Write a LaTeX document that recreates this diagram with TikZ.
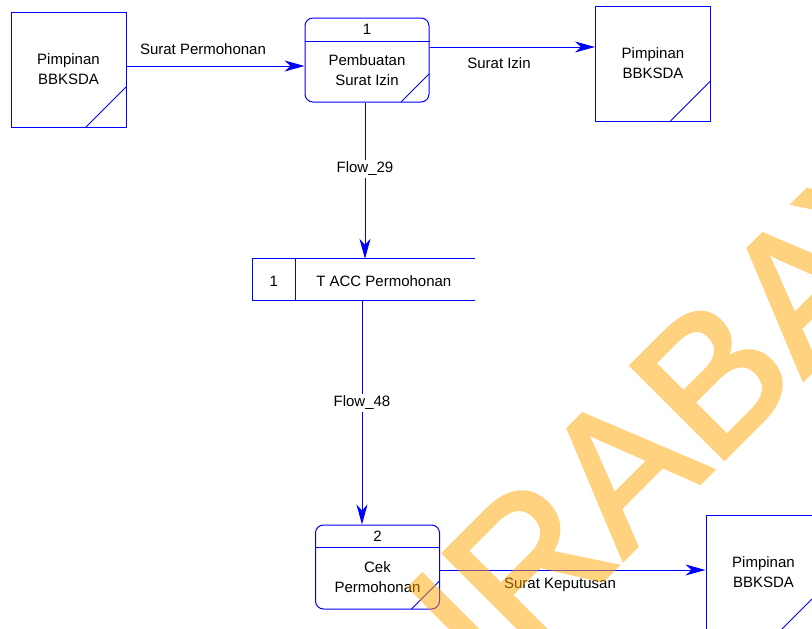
\documentclass[tikz,border=0pt]{standalone}
\usepackage{fontspec}
\setmainfont{Liberation Sans}
\newfontfamily\wmfont[FakeBold=2]{Liberation Sans}
\usetikzlibrary{arrows.meta,calc}
\definecolor{wmorange}{RGB}{255,165,0}
\definecolor{lineblue}{RGB}{0,0,255}
\tikzset{
  txt/.style={font=\fontsize{15}{20}\selectfont, align=center, inner sep=1pt},
  entity/.style={draw=lineblue, line width=1pt, minimum width=115pt, minimum height=115pt, inner sep=0pt,
     font=\fontsize{15}{20}\selectfont, align=center,
     path picture={\draw[lineblue, line width=1pt] ([xshift=-40pt]path picture bounding box.south east) -- ([yshift=40pt]path picture bounding box.south east);}},
  proc/.style={draw=lineblue, line width=1pt, rounded corners=8pt, minimum width=124pt, minimum height=84pt, inner sep=0pt,
     path picture={\draw[lineblue, line width=0.8pt] ([xshift=-28pt]path picture bounding box.south east) -- ([yshift=28pt]path picture bounding box.south east);}},
  flow/.style={draw=lineblue, line width=1pt, -{Stealth[length=20pt, width=11pt, inset=6pt]}},
  plain/.style={draw=lineblue, line width=1pt},
  flowlabel/.style={txt, fill=white, inner sep=2pt},
}
\begin{document}
\begin{tikzpicture}[x=1pt, y=-1pt]
\useasboundingbox (0,0) rectangle (812,629);
\clip (0,0) rectangle (812,629);

% external entities
\node[entity] (e1) at (68.5,69.5) {Pimpinan\\BBKSDA};
\node[entity] (e2) at (653,63.5) {Pimpinan\\BBKSDA};
\node[entity] (e3) at (763.5,572.5) {Pimpinan\\BBKSDA};

% process 1
\node[proc] (p1) at (367,60) {};
\draw[plain] ($(p1.north west)+(0,23.5)$) -- ($(p1.north east)+(0,23.5)$);
\node[txt] (p1n) at ($(p1.north)+(0,12)$) {1};
\node[txt] (p1t) at ($(p1.center)+(0,10)$) {Pembuatan\\Surat Izin};

% process 2
\node[proc] (p2) at (377.5,567) {};
\draw[plain] ($(p2.north west)+(0,23)$) -- ($(p2.north east)+(0,23)$);
\node[txt] (p2n) at ($(p2.north)+(0,11.5)$) {2};
\node[txt] (p2t) at ($(p2.center)+(0,10)$) {Cek\\Permohonan};

% data store
\node[minimum width=222pt, minimum height=41pt, inner sep=0pt] (ds) at (364,279.5) {};
\draw[plain] (ds.north east) -- (ds.north west) -- (ds.south west) -- (ds.south east);
\draw[plain] ($(ds.north west)+(43,0)$) -- ($(ds.south west)+(43,0)$);
\node[txt] (dsn) at ($(ds.west)+(21,1.5)$) {1};
\node[txt] (dst) at ($(ds.west)+(131,1.5)$) {T ACC Permohonan};

% flows
\draw[flow] ([yshift=3.5pt]e1.east) -- ([yshift=-6pt]p1.west);
\node[txt] (l1) at (203,49) {Surat Permohonan};

\draw[flow] ([yshift=13pt]p1.east) -- ([yshift=16.5pt]e2.west);
\node[txt] (l2) at (499,63) {Surat Izin};

\draw[flow] ([xshift=-2pt]p1.south) -- ([xshift=1pt]ds.north);
\node[flowlabel] (l3) at (365,169) {Flow\_29};

\draw[flow] ([xshift=-2pt]ds.south) -- ([xshift=-15.5pt]p2.north);
\node[flowlabel] (l4) at (362,403) {Flow\_48};

\draw[flow] ([yshift=-3pt]p2.east) -- ([yshift=2.5pt]e3.west);
\node[txt] (l5) at (560,585) {Surat Keputusan};

% watermark
\begin{scope}[transparency group, opacity=0.5]
\node[rotate=45, anchor=base west, inner sep=0pt, font=\wmfont\fontsize{191}{191}\selectfont, text=wmorange] (wm) at (338,845) {SURABAYA};
\end{scope}
\end{tikzpicture}
\end{document}
